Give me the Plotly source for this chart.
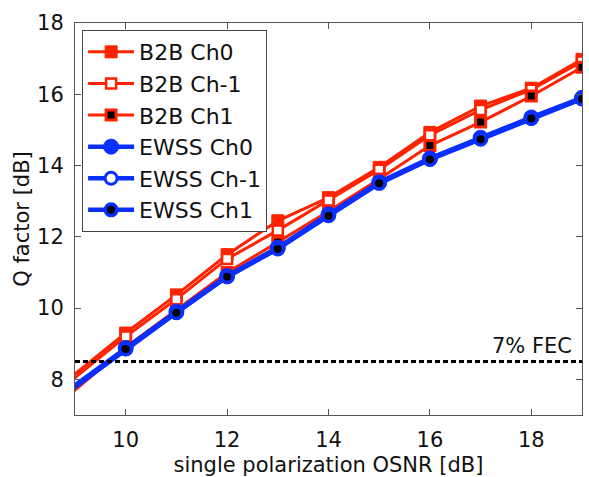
import plotly.graph_objects as go

# Single-polarization OSNR sweep [dB]
osnr = [8, 10, 11, 12, 13, 14, 15, 16, 17, 18, 19]

# Q factor [dB], back-to-back reference
b2b_ch0 = [7.00, 9.30, 10.37, 11.50, 12.45, 13.10, 13.95, 14.93, 15.67, 16.17, 16.98]
b2b_chm1 = [6.90, 9.20, 10.25, 11.38, 12.18, 13.02, 13.88, 14.85, 15.56, 16.13, 16.92]
b2b_ch1 = [6.50, 8.90, 9.95, 11.00, 11.85, 12.72, 13.62, 14.56, 15.22, 15.95, 16.76]

# Q factor [dB], through the EWSS
ewss_ch0 = [6.80, 8.88, 9.90, 10.90, 11.70, 12.63, 13.53, 14.20, 14.78, 15.35, 15.90]
ewss_chm1 = [6.78, 8.86, 9.88, 10.88, 11.68, 12.61, 13.51, 14.18, 14.76, 15.33, 15.88]
ewss_ch1 = [6.75, 8.85, 9.87, 10.88, 11.66, 12.59, 13.50, 14.17, 14.74, 15.32, 15.87]

fec_level = 8.5
fec_label = "7% FEC"

x_ticks = [10, 12, 14, 16, 18]
y_ticks = [8, 10, 12, 14, 16, 18]

RED = "#ff2200"
BLUE = "#0a30ff"
FONT = "DejaVu Sans"

fig = go.Figure()

series = [
    ("B2B Ch0", b2b_ch0, RED, 3, dict(symbol="square", size=12, color=RED, line=dict(color=RED, width=1))),
    ("B2B Ch-1", b2b_chm1, RED, 3, dict(symbol="square", size=10, color="white", line=dict(color=RED, width=2.5))),
    ("B2B Ch1", b2b_ch1, RED, 3, dict(symbol="square", size=10, color="black", line=dict(color=RED, width=3))),
    ("EWSS Ch0", ewss_ch0, BLUE, 4.5, dict(symbol="circle", size=15, color=BLUE, line=dict(color=BLUE, width=1))),
    ("EWSS Ch-1", ewss_chm1, BLUE, 4.5, dict(symbol="circle", size=12, color="white", line=dict(color=BLUE, width=3))),
    ("EWSS Ch1", ewss_ch1, BLUE, 4.5, dict(symbol="circle", size=11.5, color="black", line=dict(color=BLUE, width=3.5))),
]

for name, q, color, lw, marker in series:
    fig.add_trace(go.Scatter(
        x=osnr, y=q, name=name, mode="lines+markers",
        line=dict(color=color, width=lw),
        marker=marker,
    ))

# FEC threshold
fig.add_shape(
    type="line", xref="paper", yref="y", x0=0, x1=1, y0=fec_level, y1=fec_level,
    line=dict(color="black", width=3, dash="5px,3px"),
)
fig.add_annotation(
    xref="paper", yref="y", x=0.985, y=fec_level, text=fec_label,
    showarrow=False, xanchor="right", yanchor="bottom", yshift=2,
    font=dict(family=FONT, size=21, color="#111"),
)

axis_common = dict(
    showgrid=False, zeroline=False, showline=True, linecolor="#555", linewidth=1,
    mirror="ticks", ticks="inside", ticklen=6, tickcolor="#555",
    tickfont=dict(family=FONT, size=21, color="#111"),
    automargin=False,
)

fig.update_xaxes(
    range=[9, 19], tickvals=x_ticks, ticklabelstandoff=6,
    title=dict(text="single polarization OSNR [dB]", font=dict(family=FONT, size=21, color="#111"), standoff=9),
    **axis_common,
)
fig.update_yaxes(
    range=[7, 18], tickvals=y_ticks, ticklabelstandoff=6,
    title=dict(text="Q factor [dB]", font=dict(family=FONT, size=21, color="#111"), standoff=1),
    **axis_common,
)

fig.update_layout(
    width=589, height=477,
    margin=dict(l=75, r=7, t=23, b=62),
    plot_bgcolor="white", paper_bgcolor="white",
    legend=dict(
        x=0.014, y=0.982, xanchor="left", yanchor="top",
        bgcolor="white", bordercolor="#444", borderwidth=1,
        font=dict(family=FONT, size=22, color="#111"),
        itemwidth=46,
    ),
)

fig.write_html("out.html")
